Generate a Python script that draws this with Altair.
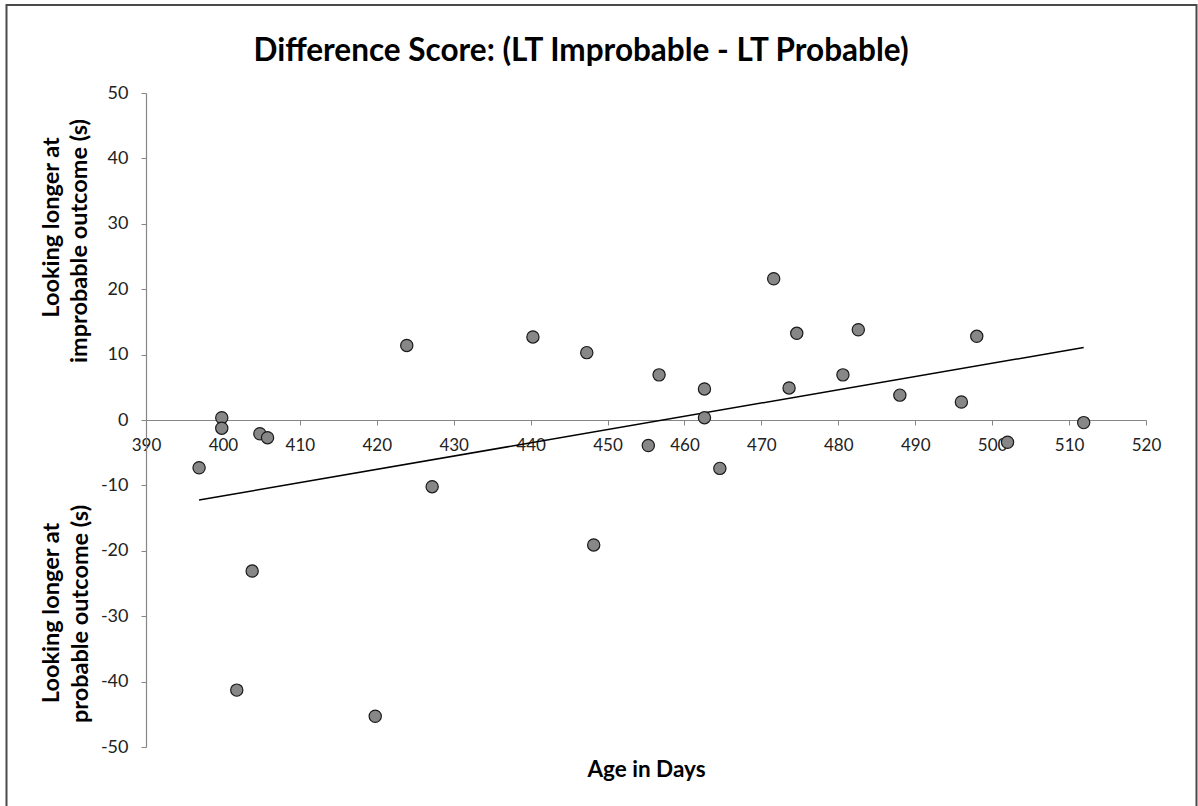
import altair as alt
import pandas as pd

# ---- data ----
age_days = [396.9, 399.85, 399.85, 404.8, 405.8, 401.8, 403.8, 419.8, 423.9, 427.2,
            440.3, 447.3, 448.2, 455.3, 456.7, 462.6, 462.6, 464.6, 471.6, 473.6,
            474.6, 480.6, 482.6, 488.0, 496.0, 498.0, 502.0, 511.9]
diff_score = [-7.3, 0.35, -1.25, -2.1, -2.7, -41.3, -23.1, -45.3, 11.4, -10.2,
              12.7, 10.3, -19.1, -3.9, 6.9, 4.75, 0.35, -7.4, 21.6, 4.9,
              13.25, 6.9, 13.8, 3.8, 2.75, 12.8, -3.4, -0.4]

x_ticks = [390, 400, 410, 420, 430, 440, 450, 460, 470, 480, 490, 500, 510, 520]
y_ticks = [-50, -40, -30, -20, -10, 0, 10, 20, 30, 40, 50]

title_text = "Difference Score: (LT Improbable - LT Probable)"
x_title = "Age in Days"
y_title_upper = ["Looking longer at", "improbable outcome (s)"]
y_title_lower = ["Looking longer at", "probable outcome (s)"]

FONT = "Lato"
AXIS_GRAY = "#868686"
W, H = 1000, 654

df = pd.DataFrame({"age": age_days, "score": diff_score})
one = pd.DataFrame({"k": [0]})

x_scale = alt.Scale(domain=[390, 520], nice=False, zero=False)
y_scale = alt.Scale(domain=[-50, 50], nice=False, zero=False)

x_axis = alt.Axis(
    values=x_ticks, offset=-327, grid=False,
    domainColor=AXIS_GRAY, domainWidth=1.2, tickColor=AXIS_GRAY, tickSize=5,
    labelFont=FONT, labelFontSize=17, labelColor="#222222", labelPadding=12,
    labelFlush=False, labelOverlap=False, labelExpr="toString(datum.value)",
    title=x_title, titleFont=FONT, titleFontSize=22.5, titleFontWeight="bold",
    titleColor="#000000", titleY=356, titleBaseline="alphabetic",
)
y_axis = alt.Axis(
    values=y_ticks, grid=False,
    domainColor=AXIS_GRAY, domainWidth=1.2, tickColor=AXIS_GRAY, tickSize=5,
    labelFont=FONT, labelFontSize=18, labelColor="#222222", labelPadding=13,
    labelFlush=False, labelOverlap=False, labelExpr="toString(datum.value)",
    title=None,
)

base = alt.Chart(df)

points = base.mark_point(
    filled=True, fill="#878787", stroke="#1a1a1a", strokeWidth=1.2,
    size=150, opacity=1, shape="circle",
).encode(
    x=alt.X("age:Q", scale=x_scale, axis=x_axis),
    y=alt.Y("score:Q", scale=y_scale, axis=y_axis),
)

trend = base.transform_regression("age", "score").mark_line(
    color="#000000", strokeWidth=1.5
).encode(
    x=alt.X("age:Q", scale=x_scale),
    y=alt.Y("score:Q", scale=y_scale),
)

def txt(text, x, y, size, angle=0, baseline="middle"):
    return alt.Chart(one).mark_text(
        text=text, font=FONT, fontSize=size, fontWeight="bold", color="#000000",
        angle=angle, align="center", baseline=baseline,
    ).encode(x=alt.value(x), y=alt.value(y))

title_mark = txt(title_text, 435, -32, 31.5, baseline="alphabetic")
yt1 = txt(y_title_upper[0], -94, 134.5, 23.5, angle=270)
yt2 = txt(y_title_upper[1], -66, 148, 23.5, angle=270)
yt3 = txt(y_title_lower[0], -94, 520, 23.5, angle=270)
yt4 = txt(y_title_lower[1], -65, 521, 23.5, angle=270)

border = alt.Chart(one).mark_rect(
    filled=False, stroke="#4a4a4a", strokeWidth=2
).encode(
    x=alt.value(-139.5), x2=alt.value(1050.5), y=alt.value(-88), y2=alt.value(730)
)

chart = alt.layer(
    border, trend, points, title_mark, yt1, yt2, yt3, yt4
).properties(
    width=W, height=H,
    padding={"left": 146, "top": 93, "right": 52, "bottom": 59},
    autosize=alt.AutoSizeParams(type="none"),
    background="white",
).configure_view(stroke=None)

chart.save("out.html", embed_options={"renderer": "svg", "actions": False})
